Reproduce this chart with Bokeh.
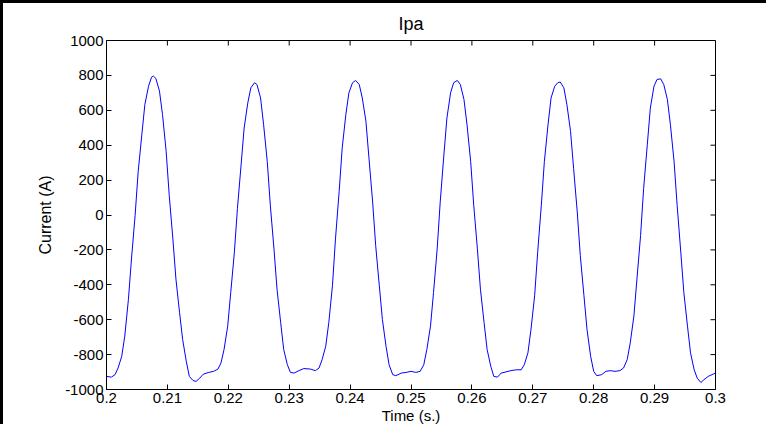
from bokeh.plotting import figure
from bokeh.models import LinearAxis, FixedTicker
from bokeh.embed import file_html
from bokeh.resources import INLINE

# Time (s) and current (A)
time_s = [0.2000, 0.2008, 0.2014, 0.2019, 0.2025, 0.2030, 0.2036, 0.2041, 0.2047, 0.2052,
          0.2058, 0.2063, 0.2069, 0.2074, 0.2077, 0.2081, 0.2087, 0.2092, 0.2098, 0.2103,
          0.2109, 0.2114, 0.2120, 0.2125, 0.2131, 0.2136, 0.2142, 0.2147, 0.2153, 0.2159,
          0.2168, 0.2176, 0.2183, 0.2188, 0.2193, 0.2199, 0.2204, 0.2210, 0.2215, 0.2221,
          0.2226, 0.2232, 0.2237, 0.2243, 0.2247, 0.2253, 0.2258, 0.2264, 0.2269, 0.2275,
          0.2280, 0.2286, 0.2291, 0.2297, 0.2302, 0.2308, 0.2316, 0.2324, 0.2335, 0.2343,
          0.2349, 0.2354, 0.2360, 0.2365, 0.2371, 0.2376, 0.2382, 0.2387, 0.2393, 0.2398,
          0.2404, 0.2409, 0.2415, 0.2420, 0.2426, 0.2431, 0.2437, 0.2442, 0.2448, 0.2453,
          0.2459, 0.2464, 0.2470, 0.2475, 0.2484, 0.2492, 0.2500, 0.2508, 0.2515, 0.2521,
          0.2526, 0.2532, 0.2537, 0.2543, 0.2548, 0.2554, 0.2559, 0.2565, 0.2570, 0.2576,
          0.2581, 0.2587, 0.2592, 0.2598, 0.2603, 0.2609, 0.2614, 0.2620, 0.2625, 0.2631,
          0.2636, 0.2642, 0.2648, 0.2656, 0.2664, 0.2673, 0.2681, 0.2686, 0.2692, 0.2697,
          0.2703, 0.2708, 0.2714, 0.2719, 0.2725, 0.2730, 0.2736, 0.2741, 0.2745, 0.2751,
          0.2756, 0.2762, 0.2767, 0.2773, 0.2778, 0.2784, 0.2789, 0.2795, 0.2800, 0.2805,
          0.2813, 0.2820, 0.2827, 0.2835, 0.2843, 0.2849, 0.2855, 0.2860, 0.2866, 0.2871,
          0.2877, 0.2882, 0.2888, 0.2893, 0.2899, 0.2904, 0.2910, 0.2915, 0.2921, 0.2926,
          0.2932, 0.2937, 0.2943, 0.2948, 0.2954, 0.2959, 0.2965, 0.2970, 0.2976, 0.2981,
          0.2988, 0.2996, 0.3000]
current_a = [-925, -929, -915, -877, -810, -694, -483, -252, -2, 248,
             460, 633, 738, 790, 796, 783, 710, 575, 363, 113,
             -137, -367, -560, -713, -838, -925, -948, -954, -935, -912,
             -902, -896, -883, -848, -771, -637, -444, -213, 37, 287,
             498, 642, 729, 758, 748, 671, 517, 306, 56, -194,
             -425, -617, -771, -858, -902, -906, -892, -880, -883, -892,
             -877, -829, -752, -617, -406, -137, 133, 383, 575, 700,
             758, 771, 748, 671, 537, 325, 75, -175, -406, -598,
             -752, -858, -915, -921, -906, -902, -896, -902, -896, -858,
             -771, -637, -444, -194, 75, 344, 556, 700, 758, 771,
             748, 662, 517, 306, 56, -194, -425, -617, -771, -867,
             -925, -929, -906, -899, -892, -887, -887, -858, -790, -656,
             -463, -213, 56, 306, 517, 671, 738, 758, 762, 729,
             633, 479, 267, 17, -233, -463, -656, -810, -896, -921,
             -915, -896, -892, -896, -892, -877, -829, -733, -579, -367,
             -117, 152, 402, 613, 738, 777, 780, 748, 662, 517,
             306, 56, -213, -444, -637, -790, -887, -935, -960, -944,
             -925, -912, -906]

x_ticks = [0.2, 0.21, 0.22, 0.23, 0.24, 0.25, 0.26, 0.27, 0.28, 0.29, 0.3]
x_tick_labels = ["0.2", "0.21", "0.22", "0.23", "0.24", "0.25", "0.26", "0.27", "0.28", "0.29", "0.3"]
y_ticks = [-1000, -800, -600, -400, -200, 0, 200, 400, 600, 800, 1000]
x_min, x_max = 0.2, 0.3
y_min, y_max = -1000, 1000

FONT = "Liberation Sans"

p = figure(width=766, height=424, output_backend="svg", toolbar_location=None,
           x_range=(x_min, x_max), y_range=(y_min, y_max),
           x_axis_location=None, y_axis_location=None,
           min_border_left=103, min_border_right=54, min_border_top=37, min_border_bottom=38,
           background_fill_color="white", border_fill_color="white")
p.styles = {"border-left": "3px solid black", "border-top": "3px solid black"}

p.grid.visible = False
p.outline_line_color = "black"
p.outline_line_width = 1

p.title.text = "Ipa"
p.title.align = "center"
p.title.text_font = FONT
p.title.text_font_size = "18px"
p.title.text_font_style = "normal"
p.title.text_color = "black"
p.title.standoff = 13


def style_axis(ax, ticks, overrides):
    ax.ticker = FixedTicker(ticks=ticks)
    ax.major_tick_in = 5
    ax.major_tick_out = 0
    ax.minor_tick_line_color = None
    ax.axis_line_color = "black"
    ax.major_tick_line_color = "black"
    ax.major_label_text_font = FONT
    ax.major_label_text_font_size = "15px"
    ax.major_label_text_color = "black"
    ax.major_label_standoff = 3
    ax.major_label_overrides = overrides
    ax.axis_label_text_font = FONT
    ax.axis_label_text_font_size = "15px"
    ax.axis_label_text_font_style = "normal"
    ax.axis_label_text_color = "black"


xb = LinearAxis(axis_label="Time (s.)")
style_axis(xb, x_ticks, {t: l for t, l in zip(x_ticks, x_tick_labels)})
xb.axis_label_standoff = 1
p.add_layout(xb, "below")

yl = LinearAxis(axis_label="Current (A)")
style_axis(yl, y_ticks, {t: str(t) for t in y_ticks})
yl.axis_label_text_font_size = "16px"
yl.axis_label_standoff = 8
p.add_layout(yl, "left")

# inward tick marks on the top and right edges of the box (MATLAB style)
tick_len_y = (y_max - y_min) * 5 / 346
tick_len_x = (x_max - x_min) * 5 / 606
p.segment(x0=x_ticks, x1=x_ticks, y0=[y_max] * len(x_ticks),
          y1=[y_max - tick_len_y] * len(x_ticks), line_color="black", line_width=1)
p.segment(x0=[x_max] * len(y_ticks), x1=[x_max - tick_len_x] * len(y_ticks),
          y0=y_ticks, y1=y_ticks, line_color="black", line_width=1)

p.line(time_s, current_a, line_color="#0000FF", line_width=1)

open("out.html", "w").write(file_html(p, INLINE))
